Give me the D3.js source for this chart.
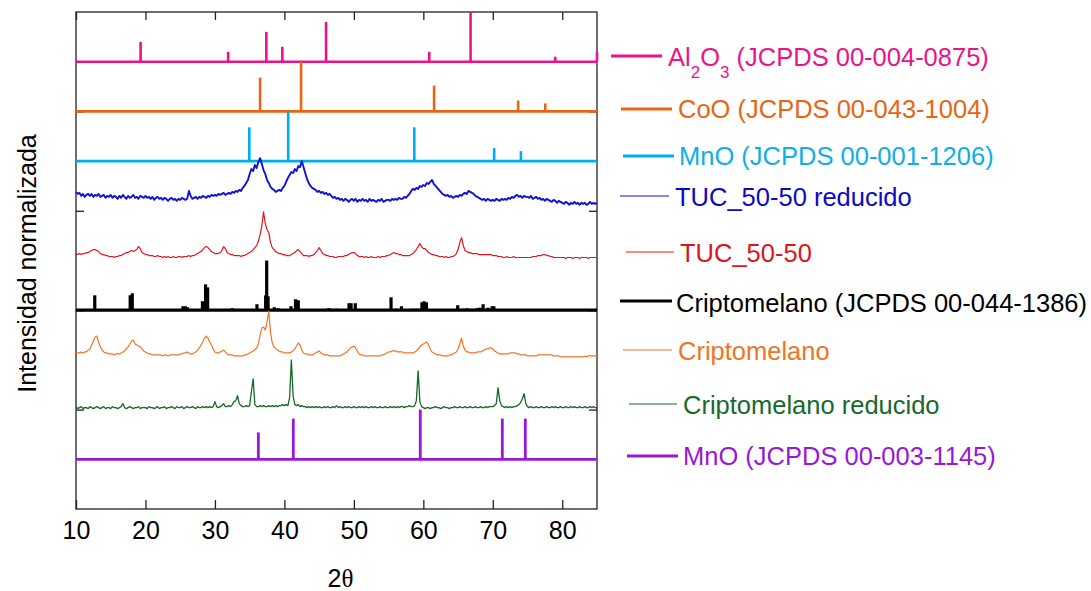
<!DOCTYPE html>
<html>
<head>
<meta charset="utf-8">
<script src="https://cdn.jsdelivr.net/npm/d3@7"></script>
<style>
  body { margin: 0; background: #fff; }
  svg text { font-family: "Liberation Sans", Arial, sans-serif; }
</style>
</head>
<body>
<svg id="chart" width="1091" height="591"></svg>
<script>
// ---- measured diffractograms: 2θ from 10° to 85° in 0.25° steps ----
const scanStart = 10;
const scanStep = 0.25;

// TUC_50-50 reducido
const tucReducido = [
  19, 17, 18, 15, 17, 14, 16, 17, 15, 17, 14, 16, 15, 17, 14, 15, 16, 13, 15, 14,
  16, 13, 15, 14, 12, 15, 13, 16, 14, 12, 15, 13, 14, 16, 13, 14, 12, 15, 14, 13,
  15, 13, 14, 12, 14, 11, 13, 14, 12, 13, 11, 13, 12, 10, 12, 13, 11, 12, 10, 12,
  11, 13, 12, 11, 12, 20, 15, 12, 13, 14, 12, 14, 13, 15, 14, 13, 15, 14, 16, 15,
  16, 15, 17, 16, 17, 18, 16, 17, 18, 17, 19, 18, 20, 19, 21, 20, 23, 25, 28, 31,
  37, 42, 40, 46, 43, 49, 53, 47, 41, 37, 31, 28, 24, 22, 21, 19, 20, 21, 20, 23,
  25, 29, 33, 36, 39, 38, 42, 40, 45, 44, 50, 44, 38, 32, 28, 25, 23, 22, 21, 19,
  20, 18, 19, 17, 18, 16, 17, 15, 13, 14, 12, 13, 11, 12, 10, 12, 11, 9, 11, 12,
  10, 12, 9, 11, 10, 12, 10, 11, 9, 12, 10, 11, 10, 9, 11, 10, 12, 9, 10, 11,
  11, 10, 12, 11, 12, 11, 13, 12, 12, 14, 13, 15, 17, 20, 22, 21, 23, 22, 25, 24,
  26, 25, 28, 27, 29, 31, 27, 25, 23, 21, 19, 17, 16, 15, 16, 14, 15, 13, 14, 15,
  14, 16, 15, 17, 18, 17, 20, 19, 18, 17, 15, 14, 13, 12, 11, 12, 10, 12, 11, 10,
  11, 10, 12, 11, 10, 12, 11, 12, 11, 13, 12, 14, 13, 15, 16, 14, 15, 13, 15, 14,
  14, 13, 15, 12, 13, 14, 12, 13, 11, 12, 10, 12, 11, 10, 9, 11, 10, 8, 10, 9,
  8, 7, 9, 8, 6, 8, 7, 9, 7, 8, 6, 8, 7, 8, 6, 7, 9, 7, 8, 7,
  8
];

// TUC_50-50
const tuc5050 = [
  7, 6, 7, 6, 7, 7, 8, 8, 9, 10, 11, 11, 10, 9, 7, 6, 6, 5, 5, 4,
  4, 4, 3, 4, 4, 5, 5, 6, 7, 8, 8, 9, 10, 9, 10, 11, 14, 12, 8, 7,
  6, 6, 5, 5, 5, 4, 4, 5, 4, 4, 3, 4, 3, 4, 3, 3, 4, 3, 3, 4,
  4, 3, 4, 4, 4, 5, 4, 5, 5, 6, 7, 8, 9, 11, 13, 14, 13, 11, 9, 8,
  7, 7, 7, 8, 10, 14, 12, 8, 7, 6, 6, 5, 5, 5, 5, 4, 5, 5, 6, 7,
  8, 9, 11, 13, 15, 19, 26, 35, 49, 37, 31, 28, 18, 13, 11, 9, 8, 7, 7, 6,
  6, 5, 5, 5, 6, 7, 8, 10, 11, 9, 7, 5, 5, 5, 4, 5, 5, 6, 8, 10,
  13, 10, 7, 6, 5, 5, 4, 4, 4, 3, 3, 4, 4, 4, 4, 5, 5, 6, 7, 8,
  8, 7, 5, 4, 4, 4, 3, 4, 3, 3, 4, 3, 3, 3, 4, 3, 4, 4, 4, 5,
  5, 6, 7, 8, 7, 7, 6, 6, 5, 5, 5, 5, 5, 6, 7, 9, 11, 14, 17, 14,
  12, 12, 10, 8, 7, 6, 6, 5, 5, 4, 4, 4, 3, 4, 3, 3, 4, 4, 5, 7,
  11, 18, 23, 15, 10, 9, 8, 8, 7, 7, 7, 7, 6, 6, 6, 6, 6, 6, 6, 6,
  5, 5, 5, 4, 4, 4, 3, 3, 4, 3, 3, 3, 4, 3, 3, 3, 3, 3, 3, 3,
  3, 3, 3, 4, 4, 4, 5, 5, 5, 6, 6, 5, 5, 4, 4, 3, 3, 3, 3, 3,
  3, 3, 2, 3, 3, 3, 2, 3, 3, 3, 2, 3, 3, 3, 3, 2, 3, 3, 3, 3,
  3
];

// Criptomelano
const criptomelano = [
  7, 7, 7, 8, 7, 8, 8, 10, 11, 15, 19, 23, 24, 18, 13, 10, 8, 7, 7, 6,
  6, 6, 5, 6, 6, 6, 7, 8, 9, 11, 13, 16, 19, 20, 16, 15, 14, 13, 11, 9,
  8, 7, 6, 6, 5, 5, 5, 5, 5, 5, 4, 5, 5, 4, 5, 5, 5, 5, 5, 5,
  6, 6, 7, 7, 8, 7, 6, 6, 7, 8, 10, 12, 15, 18, 22, 24, 22, 18, 15, 11,
  8, 7, 7, 8, 9, 10, 8, 6, 5, 5, 5, 4, 4, 4, 4, 4, 4, 5, 5, 6,
  7, 8, 9, 10, 12, 16, 25, 32, 33, 30, 38, 49, 28, 17, 13, 11, 10, 9, 8, 8,
  7, 7, 7, 7, 8, 9, 11, 14, 17, 15, 10, 7, 6, 6, 5, 5, 5, 6, 7, 8,
  9, 7, 6, 5, 5, 5, 4, 4, 4, 4, 4, 4, 4, 5, 6, 7, 8, 10, 12, 13,
  14, 12, 9, 6, 5, 5, 4, 4, 4, 4, 4, 4, 4, 4, 4, 4, 5, 5, 6, 7,
  8, 8, 9, 9, 9, 8, 8, 8, 8, 7, 7, 7, 7, 7, 7, 8, 9, 11, 13, 15,
  16, 17, 18, 15, 11, 8, 7, 6, 5, 5, 5, 4, 4, 4, 4, 5, 5, 6, 7, 8,
  11, 16, 22, 14, 10, 8, 8, 7, 7, 7, 7, 8, 8, 8, 9, 10, 11, 11, 12, 12,
  11, 9, 8, 7, 6, 6, 6, 6, 6, 6, 7, 7, 7, 7, 6, 6, 5, 5, 5, 5,
  4, 4, 4, 4, 4, 4, 5, 5, 5, 5, 5, 5, 5, 5, 5, 4, 4, 4, 4, 3,
  3, 3, 3, 3, 3, 3, 3, 3, 3, 3, 3, 3, 3, 4, 3, 4, 4, 4, 4, 4,
  4
];

// Criptomelano reducido
const criptoReducido = [
  3, 1, 2, 3, 1, 2, 2, 1, 3, 2, 1, 2, 3, 2, 1, 2, 3, 1, 2, 2,
  1, 3, 2, 2, 1, 2, 3, 6, 2, 1, 2, 3, 2, 1, 2, 2, 3, 1, 2, 2,
  2, 1, 3, 2, 2, 1, 2, 3, 1, 2, 2, 3, 1, 2, 2, 3, 2, 1, 3, 2,
  2, 3, 1, 2, 3, 2, 2, 3, 2, 1, 3, 2, 2, 3, 2, 3, 2, 3, 2, 3,
  8, 3, 2, 3, 4, 6, 3, 3, 4, 3, 5, 8, 9, 14, 6, 4, 3, 3, 4, 3,
  4, 18, 31, 5, 3, 3, 4, 3, 4, 3, 3, 4, 3, 4, 3, 4, 3, 4, 4, 5,
  4, 5, 4, 12, 50, 14, 5, 4, 5, 3, 4, 3, 3, 2, 3, 2, 3, 2, 3, 2,
  3, 2, 2, 3, 2, 3, 2, 2, 3, 2, 4, 2, 3, 2, 2, 3, 2, 3, 2, 2,
  3, 2, 2, 3, 2, 3, 2, 3, 2, 2, 3, 2, 3, 2, 2, 3, 2, 2, 3, 2,
  2, 3, 2, 3, 2, 3, 2, 3, 3, 2, 3, 3, 4, 3, 3, 4, 9, 39, 8, 3,
  2, 1, 2, 2, 1, 2, 2, 3, 2, 2, 1, 2, 3, 2, 2, 1, 2, 2, 3, 2,
  2, 3, 2, 2, 3, 2, 2, 3, 2, 2, 3, 2, 2, 3, 2, 2, 3, 2, 3, 3,
  3, 4, 6, 22, 9, 4, 3, 2, 3, 2, 3, 2, 3, 3, 4, 5, 7, 11, 16, 6,
  3, 2, 3, 2, 2, 3, 2, 2, 3, 2, 2, 3, 2, 2, 3, 2, 3, 2, 2, 3,
  2, 2, 3, 2, 2, 3, 2, 3, 2, 2, 3, 2, 2, 3, 2, 2, 3, 2, 3, 2,
  2
];

// ---- reference cards: [2θ, relative intensity %] ----
const al2o3Peaks = [[19.3, 40], [31.9, 20], [37.4, 60], [39.7, 30], [46.0, 80],
  [60.85, 20], [66.8, 100], [79.0, 10], [85.0, 20]];
const cooPeaks = [[36.5, 68], [42.4, 100], [61.55, 52], [73.65, 22], [77.55, 16]];
const mnoPeaks1206 = [[34.95, 68], [40.55, 100], [58.7, 68], [70.2, 26], [74.05, 20]];
const criptoPeaks = [[12.7, 30], [17.8, 30], [18.1, 34], [25.4, 8], [25.75, 8], [26.05, 6],
  [28.2, 18], [28.65, 52], [28.95, 46], [32.5, 4], [36.05, 12], [37.3, 30], [37.45, 100],
  [37.65, 28], [38.55, 6], [39.1, 4], [40.95, 8], [41.6, 22], [42.0, 20], [46.35, 4],
  [46.7, 3], [47.5, 3], [49.3, 14], [49.6, 14], [50.2, 14], [52.0, 2], [52.9, 2],
  [53.8, 2], [54.5, 2], [55.35, 26], [56.1, 3], [56.85, 8], [58.5, 3], [59.1, 3],
  [59.8, 16], [60.1, 18], [60.45, 16], [64.95, 10], [65.7, 3], [66.3, 4], [67.0, 3],
  [67.7, 4], [68.1, 5], [68.6, 12], [69.3, 5], [69.9, 8], [70.15, 8]];
const mnoPeaks1145 = [[36.25, 54], [41.28, 82], [59.56, 100], [71.37, 82], [74.68, 82]];

// vertical stacking offsets (normalized intensity units)
const offsets = {
  al2o3: 450, coo: 400, mno1206: 350, tucReducido: 300, tuc5050: 250,
  criptoCard: 200, criptomelano: 150, criptoReducido: 100, mno1145: 50
};

const xTicks = [10, 20, 30, 40, 50, 60, 70, 80];
const yTicks = [100, 200, 300, 400];

// ---- layout ----
const plot = { left: 76, right: 597, top: 12, bottom: 509 };
const stickScale = 0.5; // 100 % relative intensity -> 50 units

const svg = d3.select("#chart");
const x = d3.scaleLinear().domain([10, 85]).range([plot.left, plot.right]);
const y = d3.scaleLinear().domain([0, 500]).range([plot.bottom, plot.top]);
const scanX = i => scanStart + i * scanStep;

const series = [
  { key: "al2o3", type: "card", data: al2o3Peaks, color: "#ec128c", width: 2.6 },
  { key: "coo", type: "card", data: cooPeaks, color: "#ea6511", width: 2.6 },
  { key: "mno1206", type: "card", data: mnoPeaks1206, color: "#00acec", width: 2.6 },
  { key: "tucReducido", type: "scan", data: tucReducido, color: "#1212d2", width: 1.9 },
  { key: "tuc5050", type: "scan", data: tuc5050, color: "#e4141c", width: 1.2 },
  { key: "criptoCard", type: "card", data: criptoPeaks, color: "#000000", width: 3.2 },
  { key: "criptomelano", type: "scan", data: criptomelano, color: "#f27322", width: 1.2 },
  { key: "criptoReducido", type: "scan", data: criptoReducido, color: "#17692a", width: 1.3 },
  { key: "mno1145", type: "card", data: mnoPeaks1145, color: "#9a17d8", width: 2.8 }
];

// ---- frame and ticks ----
const axisColor = "#222";
const gAxes = svg.append("g");

const bottomAxis = d3.axisBottom(x).tickValues(xTicks).tickSizeInner(-9)
  .tickSizeOuter(0).tickPadding(12).tickFormat(d3.format("d"));
gAxes.append("g").attr("transform", `translate(0,${plot.bottom})`).call(bottomAxis)
  .call(g => g.select(".domain").remove())
  .call(g => g.selectAll("line").attr("stroke", axisColor).attr("stroke-width", 1.3))
  .call(g => g.selectAll("text").attr("fill", "#000").style("font-size", "25px"));

const topAxis = d3.axisTop(x).tickValues(xTicks).tickSizeInner(-8)
  .tickSizeOuter(0).tickFormat("");
gAxes.append("g").attr("transform", `translate(0,${plot.top})`).call(topAxis)
  .call(g => g.select(".domain").remove())
  .call(g => g.selectAll("line").attr("stroke", axisColor).attr("stroke-width", 1.3));

const leftAxis = d3.axisLeft(y).tickValues(yTicks).tickSizeInner(-8)
  .tickSizeOuter(0).tickFormat("");
gAxes.append("g").attr("transform", `translate(${plot.left},0)`).call(leftAxis)
  .call(g => g.select(".domain").remove())
  .call(g => g.selectAll("line").attr("stroke", axisColor).attr("stroke-width", 1.3));

const rightAxis = d3.axisRight(y).tickValues(yTicks).tickSizeInner(-8)
  .tickSizeOuter(0).tickFormat("");
gAxes.append("g").attr("transform", `translate(${plot.right},0)`).call(rightAxis)
  .call(g => g.select(".domain").remove())
  .call(g => g.selectAll("line").attr("stroke", axisColor).attr("stroke-width", 1.3));

svg.append("rect")
  .attr("x", plot.left).attr("y", plot.top)
  .attr("width", plot.right - plot.left).attr("height", plot.bottom - plot.top)
  .attr("fill", "none").attr("stroke", axisColor).attr("stroke-width", 1.3);

// ---- data ----
const gData = svg.append("g");
const line = d3.line();

series.forEach(s => {
  const base = offsets[s.key];
  if (s.type === "card") {
    const g = gData.append("g").attr("stroke", s.color).attr("stroke-width", s.width);
    g.append("line")
      .attr("x1", x(10)).attr("x2", x(85))
      .attr("y1", y(base)).attr("y2", y(base));
    g.selectAll("line.stick").data(s.data).join("line")
      .attr("class", "stick")
      .attr("x1", d => x(d[0])).attr("x2", d => x(d[0]))
      .attr("y1", y(base)).attr("y2", d => y(base + d[1] * stickScale));
  } else {
    const pts = s.data.map((v, i) => [x(scanX(i)), y(base + v)]);
    gData.append("path")
      .attr("d", line(pts))
      .attr("fill", "none")
      .attr("stroke", s.color)
      .attr("stroke-width", s.width)
      .attr("stroke-linejoin", "round");
  }
});

// ---- legend ----
const legendItems = [
  { key: "al2o3", label: null, text: "#ec128c" },
  { key: "coo", label: "CoO (JCPDS 00-043-1004)", text: "#ea6511" },
  { key: "mno1206", label: "MnO (JCPDS 00-001-1206)", text: "#10aee8" },
  { key: "tucReducido", label: "TUC_50-50 reducido", text: "#0a0ac4" },
  { key: "tuc5050", label: "TUC_50-50", text: "#e0121a" },
  { key: "criptoCard", label: "Criptomelano (JCPDS 00-044-1386)", text: "#000000" },
  { key: "criptomelano", label: "Criptomelano", text: "#f07424" },
  { key: "criptoReducido", label: "Criptomelano reducido", text: "#17692a" },
  { key: "mno1145", label: "MnO (JCPDS 00-003-1145)", text: "#9a17d8" }
];
const legendPos = [
  { x1: 611, x2: 662, y: 56, tx: 668, ty: 66 },
  { x1: 621, x2: 672, y: 109, tx: 678, ty: 118 },
  { x1: 623, x2: 674, y: 156, tx: 679, ty: 165 },
  { x1: 620, x2: 669, y: 196, tx: 675, ty: 206 },
  { x1: 626, x2: 674, y: 252, tx: 680, ty: 262 },
  { x1: 620, x2: 672, y: 301, tx: 676, ty: 312 },
  { x1: 623, x2: 672, y: 350, tx: 678, ty: 360 },
  { x1: 629, x2: 677, y: 404, tx: 683, ty: 414 },
  { x1: 627, x2: 678, y: 456, tx: 683, ty: 465 }
];
const gLegend = svg.append("g");
legendItems.forEach((item, i) => {
  const s = series.find(d => d.key === item.key);
  const p = legendPos[i];
  gLegend.append("line")
    .attr("x1", p.x1).attr("x2", p.x2).attr("y1", p.y).attr("y2", p.y)
    .attr("stroke", s.color).attr("stroke-width", s.type === "card" ? 3 : 1.1);
  const t = gLegend.append("text")
    .attr("x", p.tx).attr("y", p.ty)
    .attr("fill", item.text).style("font-size", "25.5px");
  if (item.label) {
    t.text(item.label);
  } else {
    t.append("tspan").text("Al");
    t.append("tspan").text("2").attr("dy", 12).style("font-size", "17px");
    t.append("tspan").text("O").attr("dy", -12);
    t.append("tspan").text("3").attr("dy", 12).style("font-size", "17px");
    t.append("tspan").text(" (JCPDS 00-004-0875)").attr("dy", -12);
  }
});

// ---- axis titles ----
svg.append("text")
  .attr("transform", `translate(27,${(plot.top + plot.bottom) / 2 + 3}) rotate(-90)`)
  .attr("text-anchor", "middle").attr("dy", "0.35em")
  .style("font-size", "25px").attr("fill", "#000")
  .text("Intensidad normalizada");

const xt = svg.append("text")
  .attr("x", (plot.left + plot.right) / 2 + 4).attr("y", 587)
  .attr("text-anchor", "middle").style("font-size", "25px").attr("fill", "#000");
xt.append("tspan").text("2");
xt.append("tspan").text("θ").style("font-family", "'Liberation Serif', 'DejaVu Serif', serif");
</script>
</body>
</html>
